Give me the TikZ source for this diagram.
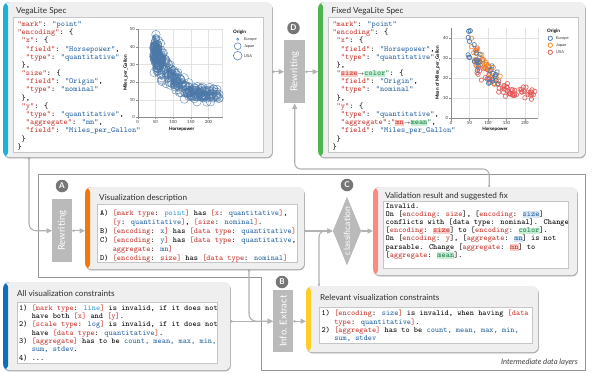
\documentclass[tikz,border=0pt]{standalone}
\usepackage{fontspec}
\setmainfont{Lato}
\usetikzlibrary{shapes.geometric,shadows,arrows.meta}
\definecolor{panelgray}{RGB}{239,239,239}
\definecolor{innerborder}{RGB}{198,198,198}
\definecolor{procgray}{RGB}{186,186,186}
\definecolor{lblgray}{RGB}{118,118,118}
\definecolor{conncol}{RGB}{178,178,178}
\definecolor{regionline}{RGB}{150,150,150}
\definecolor{titlecol}{RGB}{45,45,45}
\definecolor{keyred}{RGB}{198,52,44}
\definecolor{valblue}{RGB}{38,98,160}
\definecolor{lightblue}{RGB}{55,150,210}
\definecolor{greenT}{RGB}{28,128,68}
\definecolor{hlpink}{RGB}{252,204,198}
\definecolor{hlgreen}{RGB}{198,238,214}
\definecolor{hlblue}{RGB}{214,230,246}
\definecolor{specbar}{RGB}{28,178,214}
\definecolor{fixbar}{RGB}{78,178,78}
\definecolor{descbar}{RGB}{243,120,10}
\definecolor{validbar}{RGB}{248,140,128}
\definecolor{allcbar}{RGB}{15,110,180}
\definecolor{relevbar}{RGB}{253,205,40}
\definecolor{ptblue}{RGB}{76,120,168}
\definecolor{ptorange}{RGB}{245,133,24}
\definecolor{ptred}{RGB}{228,87,86}
\definecolor{gridcol}{RGB}{226,226,226}
\definecolor{axiscol}{RGB}{140,140,140}
\newcommand\K[1]{\textcolor{keyred}{#1}}
\newcommand\V[1]{\textcolor{valblue}{#1}}
\newcommand\LB[1]{\textcolor{lightblue}{#1}}
\newcommand\GT[1]{\textcolor{greenT}{#1}}
\newcommand\HP[1]{{\setlength\fboxsep{0pt}\colorbox{hlpink}{\rule[-1.6pt]{0pt}{6.6pt}\textcolor{keyred}{#1}}}}
\newcommand\HG[1]{{\setlength\fboxsep{0pt}\colorbox{hlgreen}{\rule[-1.6pt]{0pt}{6.6pt}\textcolor{greenT}{#1}}}}
\newcommand\HB[1]{{\setlength\fboxsep{0pt}\colorbox{hlblue}{\rule[-1.6pt]{0pt}{6.6pt}\textcolor{valblue}{#1}}}}
\newcommand\ind[1]{\phantom{#1}}
\newcommand\toarr{{\fontsize{5}{5}\selectfont$\rightarrow$}}
\newcommand\fst{\rule{0pt}{6pt}}
\begin{document}
\begin{tikzpicture}[x=1pt,y=-1pt,
  panel/.style={fill=panelgray, rounded corners=6pt, anchor=north west, inner sep=0pt,
    drop shadow={shadow xshift=0.7pt, shadow yshift=-1.2pt, opacity=0.35, fill=black!55},
    path picture={\fill[#1] (path picture bounding box.north west) rectangle ([xshift=5pt]path picture bounding box.south west);}},
  innerp/.style={draw=innerborder, fill=white, line width=0.5pt, anchor=north west, inner sep=0pt},
  ptitle/.style={anchor=base west, inner sep=0pt, text=titlecol, font=\fontsize{8.2}{10}\selectfont},
  code/.style={anchor=north west, inner sep=0pt, align=left, font=\fontsize{7.9}{#1}\selectfont\ttfamily},
  procbox/.style={fill=procgray, anchor=north west, inner sep=0pt},
  proctext/.style={rotate=90, text=white, font=\fontsize{9.5}{10}\selectfont, inner sep=0pt},
  lbl/.style={circle, fill=lblgray, text=white, inner sep=0pt, minimum size=12.5pt, font=\bfseries\fontsize{8}{8}\selectfont},
  conn/.style={draw=conncol, line width=1.1pt, {Circle[length=2.2pt]}-{Triangle[length=5.5pt,width=5pt]}},
  gridl/.style={draw=gridcol, line width=0.35pt},
  axisl/.style={draw=axiscol, line width=0.4pt},
  tick/.style={inner sep=0pt, font=\fontsize{4.2}{4.2}\selectfont, text=black!80},
  axt/.style={inner sep=0pt, font=\bfseries\fontsize{4.6}{4.6}\selectfont},
  legt/.style={anchor=west, inner sep=0pt, font=\fontsize{4}{4}\selectfont, text=black!80}
]
\useasboundingbox (0,0) rectangle (598,386);
\fill[white] (0,0) rectangle (598,386);

% intermediate region
\draw[regionline, line width=0.6pt] (38,174) -- (585,174) -- (585,370) -- (261,370) -- (261,277) -- (38,277) -- cycle;
\node[anchor=base east, inner sep=0pt, text=black!75, font=\itshape\fontsize{7.6}{9}\selectfont] (idl) at (578,364) {Intermediate data layers};

% boxes (nodes)
\node[panel=specbar, minimum width=269pt, minimum height=155pt] (spec) at (3,2) {};
\node[panel=fixbar, minimum width=267pt, minimum height=155pt] (fixed) at (318,2) {};
\node[panel=descbar, minimum width=219pt, minimum height=82pt] (desc) at (85,187) {};
\node[panel=validbar, minimum width=204pt, minimum height=88pt] (valid) at (373,187) {};
\node[panel=allcbar, minimum width=227pt, minimum height=88pt] (allc) at (3,282) {};
\node[panel=relevbar, minimum width=232pt, minimum height=66pt] (relev) at (306,286) {};

\node[procbox, minimum width=21pt, minimum height=63pt] (rewD) at (284,40) {};
\node[procbox, minimum width=20pt, minimum height=63pt] (rewA) at (52,199) {};
\node[procbox, minimum width=20pt, minimum height=62pt] (info) at (273,290) {};
\node[diamond, fill=procgray, minimum width=28pt, minimum height=68pt, inner sep=0pt] (cls) at (347,231) {};

% connectors
\draw[conn] (rewD.west -| spec.east) -- (rewD.west);
\draw[conn] (rewD.east) -- (rewD.east -| fixed.west);
\draw[conn, rounded corners=6pt] ([xshift=14pt]valid.north) -- ++(0,-18) -| (rewD.south);
\draw[conn, rounded corners=7pt] ([xshift=26pt]spec.south west) |- (rewA.west);
\draw[conn] (rewA.east) -- (rewA.east -| desc.west);
\draw[conn] (cls.west -| desc.east) -- (cls.west);
\draw[conn, rounded corners=6pt] ([xshift=13pt]relev.north west) |- (cls.west);
\draw[conn] (cls.east) -- (cls.east -| valid.west);
\draw[conn, rounded corners=7pt] ([xshift=164pt]desc.south west) |- (info.west);
\draw[conn] (info.west -| allc.east) -- (info.west);
\draw[conn] (info.east) -- (info.east -| relev.west);

% redraw boxes on top of connectors
\node[panel=specbar, minimum width=269pt, minimum height=155pt] at (3,2) {};
\node[panel=fixbar, minimum width=267pt, minimum height=155pt] at (318,2) {};
\node[panel=descbar, minimum width=219pt, minimum height=82pt] at (85,187) {};
\node[panel=validbar, minimum width=204pt, minimum height=88pt] at (373,187) {};
\node[panel=allcbar, minimum width=227pt, minimum height=88pt] at (3,282) {};
\node[panel=relevbar, minimum width=232pt, minimum height=66pt] at (306,286) {};
\node[procbox, minimum width=21pt, minimum height=63pt] at (284,40) {};
\node[procbox, minimum width=20pt, minimum height=63pt] at (52,199) {};
\node[procbox, minimum width=20pt, minimum height=62pt] at (273,290) {};
\node[diamond, fill=procgray, minimum width=28pt, minimum height=68pt, inner sep=0pt] at (347,231) {};

\node[proctext] (tD) at (rewD) {Rewriting};
\node[proctext] (tA) at (rewA) {Rewriting};
\node[proctext] (tB) at (info) {Info. Extract};
\node[proctext, font=\fontsize{8.6}{10}\selectfont] (tC) at (cls) {classification};

\node[lbl] (lD) at (293.5,28) {D};
\node[lbl] (lA) at (62,186) {A};
\node[lbl] (lB) at (282,282) {B};
\node[lbl] (lC) at (347,185) {C};

% titles
\node[ptitle] (t1) at (16,13.4) {VegaLite Spec};
\node[ptitle] (t2) at (331.5,13.4) {Fixed VegaLite Spec};
\node[ptitle] (t3) at (99,200.2) {Visualization description};
\node[ptitle] (t4) at (385,198.2) {Validation result and suggested fix};
\node[ptitle] (t5) at (17,296) {All visualization constraints};
\node[ptitle] (t6) at (320,300.5) {Relevant visualization constraints};

% inner panels
\node[innerp, minimum width=250pt, minimum height=135pt] (specIn) at (13,17) {};
\node[innerp, minimum width=250pt, minimum height=135pt] (fixedIn) at (328,17) {};
\node[innerp, minimum width=200pt, minimum height=58pt] (descIn) at (97,204) {};
\node[innerp, minimum width=185pt, minimum height=67pt] (validIn) at (383,201) {};
\node[innerp, minimum width=200pt, minimum height=61pt] (allcIn) at (17,302) {};
\node[innerp, minimum width=213pt, minimum height=36pt] (relevIn) at (319,307) {};

% code texts
\node[code=8.18pt] (specCode) at (17.3,20.3) {\fst\K{"mark"}: \V{"point"}\\
\K{"encoding"}: \{\\
\ind{x}\K{"x"}: \{\\
\ind{xx}\K{"field"}: \V{"Horsepower"},\\
\ind{xx}\K{"type"}: \V{"quantitative"}\\
\ind{x}\},\\
\ind{x}\K{"size"}: \{\\
\ind{xx}\K{"field"}: \V{"Origin"},\\
\ind{xx}\K{"type"}: \V{"nominal"}\\
\ind{x}\},\\
\ind{x}\K{"y"}: \{\\
\ind{xx}\K{"type"}: \V{"quantitative"},\\
\ind{xx}\K{"aggregate"}: \V{"mn"},\\
\ind{xx}\K{"field"}: \V{"Miles\_per\_Gallon"}\\
\ind{x}\}\\
\}};

\node[code=8.18pt] (fixedCode) at (332.3,20.3) {\fst\K{"mark"}: \V{"point"}\\
\K{"encoding"}: \{\\
\ind{x}\K{"x"}: \{\\
\ind{xx}\K{"field"}: \V{"Horsepower"},\\
\ind{xx}\K{"type"}: \V{"quantitative"}\\
\ind{x}\},\\
\ind{x}\K{"}\HP{size}\toarr\HG{color}\GT{"}: \{\\
\ind{xx}\K{"field"}: \V{"Origin"},\\
\ind{xx}\K{"type"}: \V{"nominal"}\\
\ind{x}\},\\
\ind{x}\K{"y"}: \{\\
\ind{xx}\K{"type"}: \V{"quantitative"},\\
\ind{xx}\K{"aggregate"}:\K{"}\HP{mn}\toarr\HG{mean}\GT{"},\\
\ind{xx}\K{"field"}: \V{"Miles\_per\_Gallon"}\\
\ind{x}\}\\
\}};

\node[code=9pt] (descCode) at (100,209) {\fst A) \K{[mark type}: \LB{point}\K{]} has \K{[x}: \V{quantitative}\K{]},\\
\ind{xxx}\K{[y}: \V{quantitative}\K{]}, \K{[size}: \V{nominal}\K{]}.\\
B) \K{[encoding}: \V{x}\K{]} has \K{[data type}: \V{quantitative}\K{]}\\
C) \K{[encoding}: \V{y}\K{]} has \K{[data type}: \V{quantitative},\\
\ind{xxx}\K{aggregate}: \V{mn}\K{]}\\
D) \K{[encoding}: \K{size}\K{]} has \K{[data type}: \V{nominal}\K{]}};

\node[code=8.2pt] (validCode) at (385.5,201.8) {\fst Invalid.\\
On [\K{encoding}: \K{size}], [\K{encoding}: \HB{size}]\\
conflicts with [data type: nominal]. Change\\
{[}\K{encoding}: \HP{size}] to [\K{encoding}: \HG{color}].\\
On [\K{encoding}: \K{y}], [\K{aggregate}: \HB{mn}] is not\\
parsable. Change [\K{aggregate}: \HP{mn}] to\\
{[}\K{aggregate}: \HG{mean}].};

\node[code=8.33pt] (allcCode) at (19,304) {\fst 1) \K{[mark type}: \LB{line}\K{]} is invalid, if it does not\\
\ind{xxx}have both \K{[x]} and \K{[y]}.\\
2) \K{[scale type}: \V{log}\K{]} is invalid, if it does not\\
\ind{xxx}have \K{[data type}: \V{quantitative}\K{]}.\\
3) \K{[aggregate]} has to be \V{count, mean, max, min,}\\
\ind{xxx}\V{sum, stdev}.\\
4) ...};

\node[code=8.33pt] (relevCode) at (321.5,309.6) {\fst 1) \K{[encoding}: \V{size}\K{]} is invalid, when having \K{[data}\\
\ind{xxx}\K{type}: \V{quantitative}\K{]}.\\
2) \K{[aggregate]} has to be \V{count, mean, max, min,}\\
\ind{xxx}\V{sum, stdev}};

% ---------- left scatter plot ----------
\begin{scope}[shift={(137.7,117.3)}, x=0.354pt, y=1.76pt]
  \foreach \g in {50,100,150,200,240} \draw[gridl] (\g,0) -- (\g,50);
  \foreach \g in {10,20,30,40,50} \draw[gridl] (0,\g) -- (240,\g);
  \draw[axisl] (0,0) -- (240,0);
  \draw[axisl] (0,0) -- (0,50);
  \foreach \g in {0,50,100,150,200} {\draw[axisl] (\g,0) -- ++(0,-1.2); \node[tick, anchor=north] at ([yshift=-2.6pt]\g,0) {\g};}
  \foreach \g in {0,10,20,30,40,50} {\draw[axisl] (0,\g) -- ++(-6,0); \node[tick, anchor=east] at ([xshift=-2.8pt]0,\g) {\g};}
  \pgfmathsetseed{4242}
  \foreach \i in {1,...,390}{
    \pgfmathsetmacro\hp{46*pow(5,pow(rnd,1.3))}
    \pgfmathsetmacro\base{56.9-0.466*\hp+0.00123*\hp*\hp}
    \pgfmathsetmacro\mpg{min(\base*(1+0.27*(rnd+rnd+rnd-1.5)),47)}
    \pgfmathsetmacro\o{rnd}
    \pgfmathsetmacro\rr{(\hp>130)?4.3:((\o<0.45)?4.3:((\o<0.72)?3.4:1.1))}
    \draw[ptblue, draw opacity=0.75, line width=0.5pt] (\hp,\mpg) circle[radius=\rr pt];
  }
\end{scope}
\node[axt] (lxt) at (181.7,129.5) {Horsepower};
\node[axt, rotate=90] (lyt) at (125.5,73) {Miles\_per\_Gallon};
\node[axt, anchor=west] (lleg) at (233,32.5) {Origin};
\draw[ptblue, line width=0.5pt] (237.7,39.2) circle[radius=1.1pt];
\draw[ptblue, line width=0.5pt] (237.7,46.2) circle[radius=3.4pt];
\draw[ptblue, line width=0.5pt] (237.7,55.7) circle[radius=4.3pt];
\node[legt] at (244,39.2) {Europe};
\node[legt] at (244,46.2) {Japan};
\node[legt] at (244,55.7) {USA};

% ---------- right scatter plot ----------
\begin{scope}[shift={(451,118.3)}, x=0.37pt, y=2pt]
  \foreach \g in {50,100,150,200,235} \draw[gridl] (\g,0) -- (\g,45);
  \foreach \g in {10,20,30,40} \draw[gridl] (0,\g) -- (235,\g);
  \draw[axisl] (0,0) -- (235,0);
  \draw[axisl] (0,0) -- (0,45);
  \foreach \g in {0,50,100,150,200} {\draw[axisl] (\g,0) -- ++(0,-1.1); \node[tick, anchor=north] at ([yshift=-2.6pt]\g,0) {\g};}
  \foreach \g in {0,10,20,30,40} {\draw[axisl] (0,\g) -- ++(-5.5,0); \node[tick, anchor=east] at ([xshift=-2.8pt]0,\g) {\g};}
  \pgfmathsetseed{777}
  \foreach \i in {1,...,70}{
    \pgfmathsetmacro\hp{62+168*pow(rnd,0.9)}
    \pgfmathsetmacro\base{56.9-0.466*\hp+0.00123*\hp*\hp}
    \pgfmathsetmacro\mpg{min(\base*(0.94+0.3*(rnd+rnd-1)),43)}
    \draw[ptred, draw opacity=0.85, line width=0.75pt] (\hp,\mpg) circle[radius=2.2pt];
  }
  \foreach \i in {1,...,28}{
    \pgfmathsetmacro\hp{55+78*pow(rnd,1.1)}
    \pgfmathsetmacro\base{56.9-0.466*\hp+0.00123*\hp*\hp}
    \pgfmathsetmacro\mpg{min(\base*(1.12+0.32*(rnd+rnd-1)),40)}
    \draw[ptorange, draw opacity=0.85, line width=0.75pt] (\hp,\mpg) circle[radius=2.2pt];
  }
  \foreach \i in {1,...,28}{
    \pgfmathsetmacro\hp{46+88*pow(rnd,1.2)}
    \pgfmathsetmacro\base{56.9-0.466*\hp+0.00123*\hp*\hp}
    \pgfmathsetmacro\mpg{min(\base*(1.02+0.34*(rnd+rnd-1)),41)}
    \draw[ptblue, draw opacity=0.85, line width=0.75pt] (\hp,\mpg) circle[radius=2.2pt];
  }
  \draw[ptblue, line width=0.75pt] (48,43.5) circle[radius=2.2pt];
  \draw[ptblue, line width=0.75pt] (52,43.8) circle[radius=2.2pt];
\end{scope}
\node[axt] (rxt) at (495,129.5) {Horsepower};
\node[axt, rotate=90] (ryt) at (437.5,73) {Mean of Miles\_per\_Gallon};
\node[axt, anchor=west] (rleg) at (547,31) {Origin};
\draw[ptblue, line width=0.75pt] (550.3,38.3) circle[radius=2.2pt];
\draw[ptorange, line width=0.75pt] (550.3,45.2) circle[radius=2.2pt];
\draw[ptred, line width=0.75pt] (550.3,52.3) circle[radius=2.2pt];
\node[legt] at (556,38.3) {Europe};
\node[legt] at (556,45.2) {Japan};
\node[legt] at (556,52.3) {USA};
\end{tikzpicture}
\end{document}
